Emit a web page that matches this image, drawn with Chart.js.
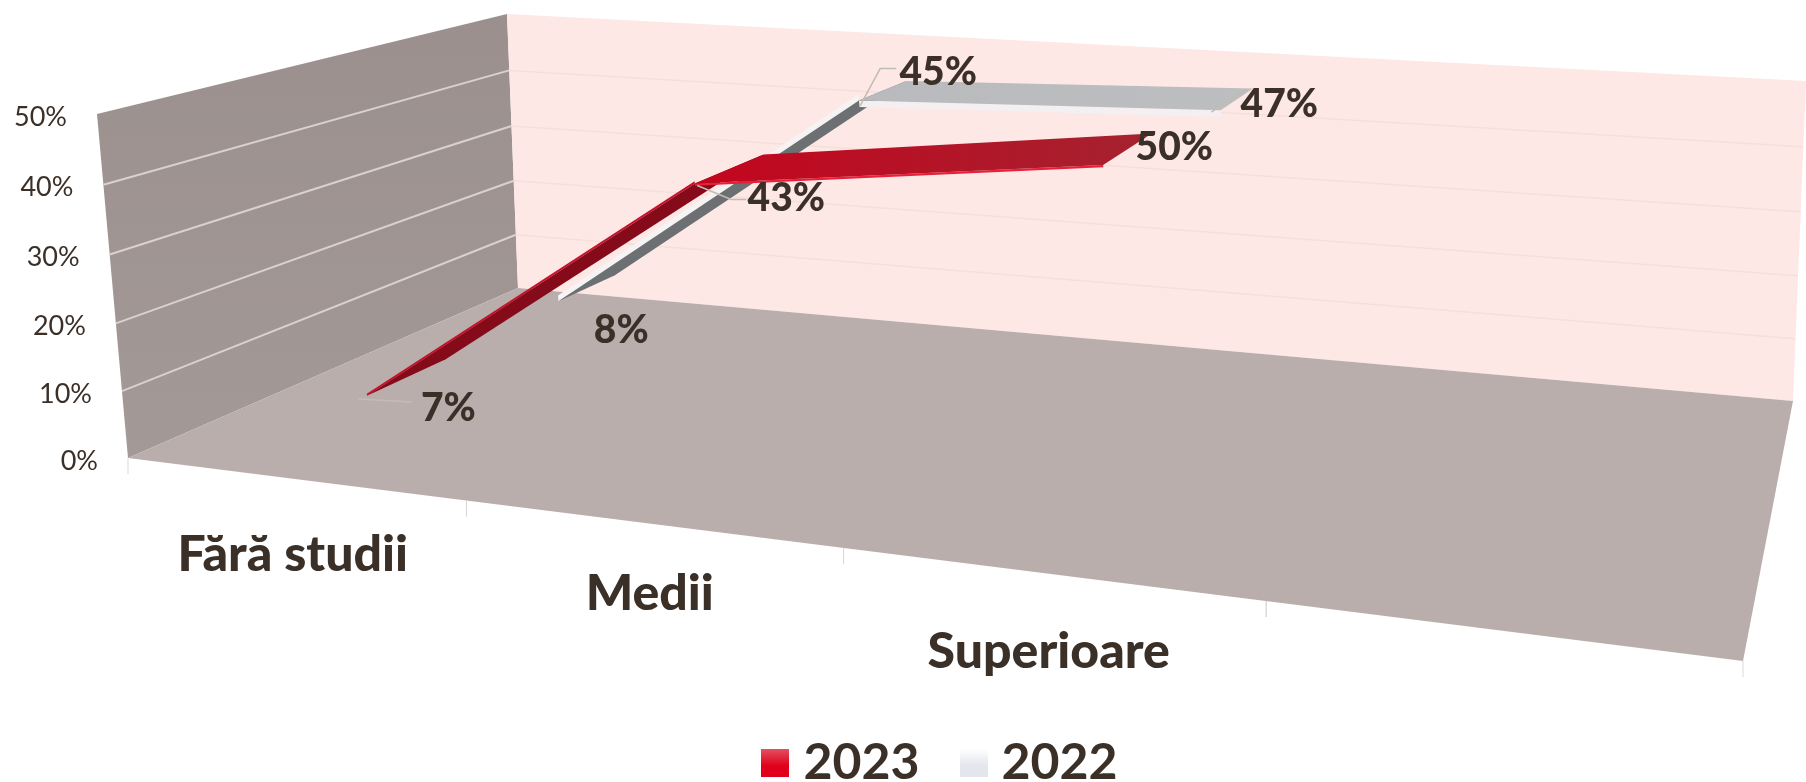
<!DOCTYPE html>
<html>
<head>
<meta charset="utf-8">
<style>
  html, body { margin: 0; padding: 0; background: #fff; }
  canvas { display: block; }
</style>
<script src="https://cdn.jsdelivr.net/npm/chart.js@4/dist/chart.umd.js"></script>
</head>
<body>
<canvas id="myChart" width="1806" height="782"></canvas>
<script>
const categories = ['Fără studii', 'Medii', 'Superioare', ''];
const yTicks = [0, 10, 20, 30, 40, 50];
const values2023 = [7, 43, 50, null];
const values2022 = [8, 45, 47, null];

// box corners on screen, the picture is a perspective view
const floorCorners = [[128, 458], [1743, 661], [1793, 401], [518, 288]];
const topCorners = [[97, 114], [1790, 258], [1806, 81], [507, 14]];
const yPerspective = 0.965;

const textColor = '#3b3028';
const labelOffsets2023 = [[41, 31], [56, 30], [46, -1]];
const labelOffsets2022 = [[34, 42], [55, -18], [42, 5]];
const categoryLabelDrop = [76, 70, 78];

// leader lines, relative to the data label
const leaders2023 = [[[-90, -9], [-37, -6]], [[-89, -13], [-55, 1], [-40, 1]], null];
const leaders2022 = [null, [[-78, 33], [-58, -4], [-42, -4]], [[-68, 8], [-33, -15]]];

function quadMap(q) {
    const [a, b, c, d] = q;
    const dx1 = b[0] - c[0], dx2 = d[0] - c[0], sx = a[0] - b[0] + c[0] - d[0];
    const dy1 = b[1] - c[1], dy2 = d[1] - c[1], sy = a[1] - b[1] + c[1] - d[1];
    const den = dx1 * dy2 - dx2 * dy1;
    const g = (sx * dy2 - dx2 * sy) / den;
    const h = (dx1 * sy - sx * dy1) / den;
    const A = b[0] - a[0] + g * b[0], B = d[0] - a[0] + h * d[0];
    const D = b[1] - a[1] + g * b[1], E = d[1] - a[1] + h * d[1];
    return (u, v) => {
        const w = g * u + h * v + 1;
        return [(A * u + B * v + a[0]) / w, (D * u + E * v + a[1]) / w];
    };
}
const floorMap = quadMap(floorCorners);
const topMap = quadMap(topCorners);

// u across the categories, v up the value axis, z from front to back, all 0..1
function project(u, v, z) {
    const ux = u + 0.028 * u * (1 - u);
    const p = floorMap(ux, z), q = topMap(ux, z);
    const t = v * yPerspective / (1 - v + v * yPerspective);
    return [p[0] + (q[0] - p[0]) * t, p[1] + (q[1] - p[1]) * t];
}

function poly(ctx, pts, fill) {
    ctx.beginPath();
    pts.forEach((p, i) => i ? ctx.lineTo(p[0], p[1]) : ctx.moveTo(p[0], p[1]));
    ctx.closePath();
    ctx.fillStyle = fill;
    ctx.fill();
}

function line(ctx, pts, color, width) {
    ctx.beginPath();
    pts.forEach((p, i) => i ? ctx.lineTo(p[0], p[1]) : ctx.moveTo(p[0], p[1]));
    ctx.strokeStyle = color;
    ctx.lineWidth = width;
    ctx.stroke();
}

function uOf(chart, i) {
    const x = chart.scales.x;
    return (x.getPixelForValue(i) - x.left) / x.width;
}
function vOf(chart, value) {
    const y = chart.scales.y;
    return (y.bottom - y.getPixelForValue(value)) / y.height;
}

const ribbonStyles = [
    { z0: 0.185, z1: 0.38, rise: '#850b1a', riseEdge: '#c70f28', flat: ['#c4051e', '#a5222f'], edge: '#e8203a', thick: 0.006 },
    { z0: 0.70, z1: 0.88, rise: '#6c7072', riseEdge: '#f6f3f4', flat: ['#b9babd', '#bdbec0'], edge: '#f4f0f1', thick: 0.02 }
];

// the ribbons sit a little wider and lower than the plain box mapping gives
function ribbonU(chart, i) {
    return 0.385 + (uOf(chart, i) - 0.375) * 1.05;
}
function ribbonV(chart, value) {
    return vOf(chart, value) - 0.01;
}

function drawRibbon(chart, values, st) {
    const ctx = chart.ctx;
    for (let i = 0; i < values.length - 1; i++) {
        if (values[i] == null || values[i + 1] == null) continue;
        const u0 = ribbonU(chart, i), u1 = ribbonU(chart, i + 1);
        const v0 = ribbonV(chart, values[i]), v1 = ribbonV(chart, values[i + 1]);
        const a = project(u0, v0, st.z0), b = project(u1, v1, st.z0);
        const c = project(u1, v1, st.z1), d = project(u0, v0, st.z1);
        if (Math.abs(values[i + 1] - values[i]) > 10) {
            // seen nearly edge on, the lit side shows above the dark face
            poly(ctx, [a, b, project(u1, v1 + st.thick, st.z0), project(u0, v0 + st.thick, st.z0)], st.riseEdge);
            poly(ctx, [a, b, c, d], st.rise);
        } else {
            poly(ctx, [a, b, project(u1, v1 - st.thick, st.z0), project(u0, v0 - st.thick, st.z0)], st.edge);
            const g = ctx.createLinearGradient(a[0], 0, c[0], 0);
            g.addColorStop(0, st.flat[0]);
            g.addColorStop(1, st.flat[1]);
            poly(ctx, [a, b, c, d], g);
        }
    }
}

const box3d = {
    id: 'box3d',
    beforeDatasetsDraw(chart) {
        const ctx = chart.ctx;
        ctx.save();
        const wall = ctx.createLinearGradient(0, 20, 0, 460);
        wall.addColorStop(0, '#9b908d');
        wall.addColorStop(1, '#a39996');
        poly(ctx, [project(0, 0, 0), project(0, 1, 0), project(0, 1, 1), project(0, 0, 1)], wall);
        poly(ctx, [project(0, 0, 1), project(0, 1, 1), project(1, 1, 1), project(1, 0, 1)], '#fde8e6');
        poly(ctx, [project(0, 0, 0), project(1, 0, 0), project(1, 0, 1), project(0, 0, 1)], '#baaead');

        yTicks.forEach(t => {
            const v = vOf(chart, t);
            if (t > 0 && t < 50) {
                line(ctx, [project(0, v, 0), project(0, v, 1)], '#d8d1ce', 2);
                line(ctx, [project(0, v, 1), project(1, v, 1)], '#f5dfdc', 1.5);
            }
            const p = project(0, v, 0);
            ctx.font = '27px Lato';
            ctx.fillStyle = textColor;
            ctx.textAlign = 'right';
            ctx.textBaseline = 'middle';
            ctx.fillText(t + '%', p[0] - 30, p[1] + 3);
        });

        // category ticks on the front edge of the floor
        categories.forEach((c, i) => {
            [i, i + 1].forEach(k => {
                const p = project(k / categories.length, 0, 0);
                line(ctx, [p, [p[0], p[1] + 16]], '#d9d9d9', 1);
            });
            if (!c) return;
            const p = project(uOf(chart, i), 0, 0);
            ctx.font = '900 50px Lato';
            ctx.fillStyle = textColor;
            ctx.textAlign = 'center';
            ctx.textBaseline = 'middle';
            ctx.fillText(c, p[0], p[1] + categoryLabelDrop[i]);
        });
        ctx.restore();
    },
    afterDatasetsDraw(chart) {
        const ctx = chart.ctx;
        ctx.save();
        drawRibbon(chart, values2022, ribbonStyles[1]);
        drawRibbon(chart, values2023, ribbonStyles[0]);

        const series = [
            [values2023, ribbonStyles[0], labelOffsets2023, leaders2023],
            [values2022, ribbonStyles[1], labelOffsets2022, leaders2022]
        ];
        series.forEach(([values, st, offs, leaders]) => {
            values.forEach((val, i) => {
                if (val == null) return;
                const p = project(ribbonU(chart, i), ribbonV(chart, val), (st.z0 + st.z1) / 2);
                const lx = p[0] + offs[i][0], ly = p[1] + offs[i][1];
                if (leaders[i]) {
                    line(ctx, leaders[i].map(o => [lx + o[0], ly + o[1]]), '#c2bdb2', 1.5);
                }
                ctx.font = '900 39px Lato';
                ctx.fillStyle = textColor;
                ctx.textAlign = 'center';
                ctx.textBaseline = 'middle';
                ctx.fillText(val + '%', lx, ly);
            });
        });
        ctx.restore();
    }
};

function legendSwatch(top, bottom) {
    const c = document.createElement('canvas');
    c.width = 28;
    c.height = 28;
    const cx = c.getContext('2d');
    const g = cx.createLinearGradient(0, 0, 0, 28);
    g.addColorStop(0, top);
    g.addColorStop(0.6, bottom);
    g.addColorStop(1, bottom);
    cx.fillStyle = g;
    cx.fillRect(0, 0, 28, 28);
    return c;
}

const ctx = document.getElementById('myChart').getContext('2d');
const myChart = new Chart(ctx, {
    type: 'line',
    data: {
        labels: categories,
        datasets: [{
            label: '2023',
            data: values2023,
            showLine: false,
            pointRadius: 0,
            pointStyle: legendSwatch('#e3505f', '#e0001b')
        }, {
            label: '2022',
            data: values2022,
            showLine: false,
            pointRadius: 0,
            pointStyle: legendSwatch('#ffffff', '#e4e6ee')
        }]
    },
    plugins: [box3d],
    options: {
        responsive: false,
        animation: false,
        layout: { padding: { left: 84, bottom: -16 } },
        plugins: {
            tooltip: { enabled: false },
            legend: {
                position: 'bottom',
                labels: {
                    usePointStyle: true,
                    pointStyleWidth: 6,
                    padding: 51,
                    color: textColor,
                    font: { family: 'Lato', size: 50, weight: 'bold' },
                    generateLabels(chart) {
                        return chart.data.datasets.map((d, i) => ({
                            text: d.label,
                            pointStyle: d.pointStyle,
                            fontColor: textColor,
                            lineWidth: 0,
                            strokeStyle: 'transparent',
                            datasetIndex: i
                        }));
                    }
                }
            }
        },
        scales: {
            x: { display: false, offset: true },
            y: { display: false, min: 0, max: 50, ticks: { stepSize: 10 } }
        }
    }
});
</script>
</body>
</html>
